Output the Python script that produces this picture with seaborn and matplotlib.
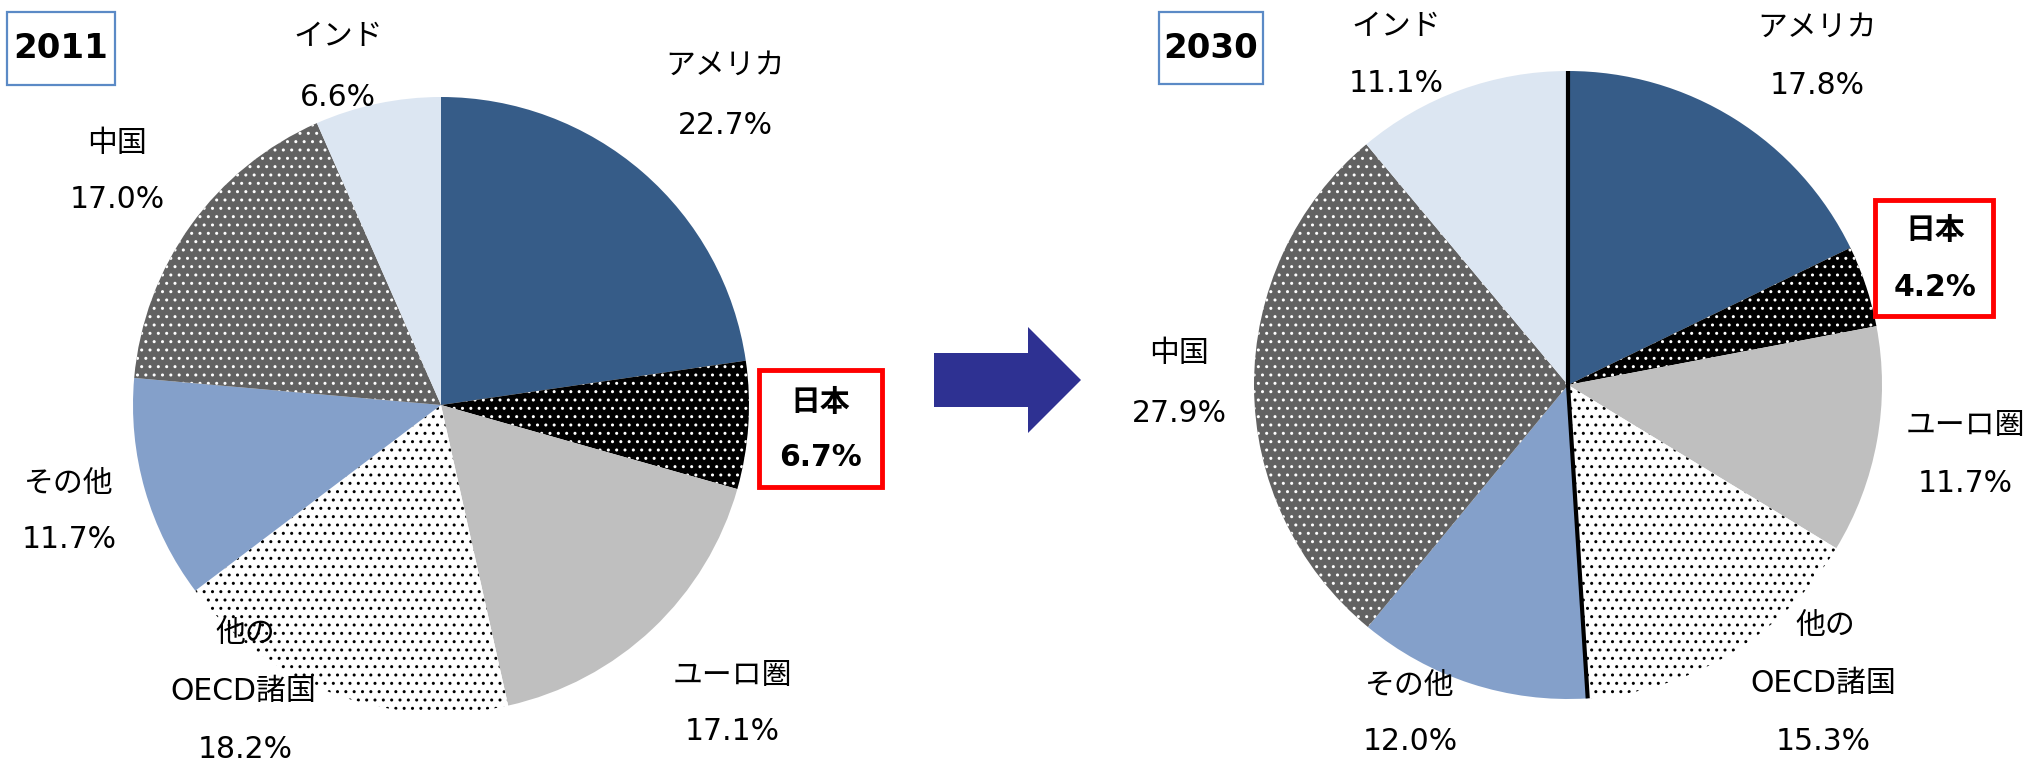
import numpy as np
import matplotlib
matplotlib.use("Agg")
import matplotlib.pyplot as plt
from matplotlib.patches import Rectangle, FancyArrow
import seaborn as sns

# ---- data ----
categories = ["アメリカ", "日本", "ユーロ圏", "他の\nOECD諸国", "その他", "中国", "インド"]
share_2011 = [22.7, 6.7, 17.1, 18.2, 11.7, 17.0, 6.6]
share_2030 = [17.8, 4.2, 11.7, 15.3, 12.0, 27.9, 11.1]
years = ["2011", "2030"]
highlight = "日本"

# ---- styles ----
colors = ["#365C88", "#000000", "#BFBFBF", "#FFFFFF", "#84A0CA", "#626262", "#DCE6F2"]
hatches = [None, "..", None, "..", None, "..", None]
hatch_colors = [None, "white", None, "black", None, "white", None]

sns.set_theme(style="white")
plt.rcParams["font.family"] = ["DejaVu Sans", "Noto Sans CJK JP"]
plt.rcParams["text.color"] = "black"
plt.rcParams["hatch.linewidth"] = 1.0

W, H = 2042, 766
fig = plt.figure(figsize=(W / 100, H / 100), dpi=100)
ax = fig.add_axes([0, 0, 1, 1])

def Y(v):
    return H - v

# layout (pixel coords, y from top)
pies = [
    dict(vals=share_2011, cx=441, cy=405, r=308,
         title_box=(7, 12, 108, 73),
         labels={
             "アメリカ": (725, 65, 725, 126),
             "ユーロ圏": (732, 675, 732, 732),
             "他の\nOECD諸国": (245, 633, 245, 750),
             "その他": (69, 484, 69, 540),
             "中国": (117, 143, 117, 200),
             "インド": (338, 37, 338, 97),
         },
         jp_box=(759, 370, 123, 117), jp_text=(820, 402, 820, 458),
         dividers=[]),
    dict(vals=share_2030, cx=1568, cy=385, r=314,
         title_box=(1159, 12, 104, 72),
         labels={
             "アメリカ": (1817, 27, 1817, 86),
             "ユーロ圏": (1965, 425, 1965, 483),
             "他の\nOECD諸国": (1825, 625, 1823, 742),
             "その他": (1410, 685, 1410, 742),
             "中国": (1179, 354, 1179, 414),
             "インド": (1396, 27, 1396, 84),
         },
         jp_box=(1875, 200, 118, 116), jp_text=(1935, 231, 1935, 288),
         dividers=[0, 4]),
]

label_fs = 21.5

for p, year in zip(pies, years):
    vals = p["vals"]
    wedges, _ = ax.pie(vals, colors=colors, startangle=90, counterclock=False,
                       center=(p["cx"], Y(p["cy"])), radius=p["r"],
                       wedgeprops=dict(linewidth=0))
    for w, h, hc in zip(wedges, hatches, hatch_colors):
        if h:
            w.set_hatch(h)
            w.set_edgecolor(hc)
            w.set_linewidth(0)
    # divider lines on wedge boundaries
    cum = np.concatenate([[0], np.cumsum(vals)]) / np.sum(vals)
    for k in p["dividers"]:
        ang = np.deg2rad(90 - 360 * cum[k])
        x1 = p["cx"] + p["r"] * np.cos(ang)
        y1 = Y(p["cy"]) + p["r"] * np.sin(ang)
        ax.plot([p["cx"], x1], [Y(p["cy"]), y1], color="black", lw=3,
                solid_capstyle="butt", zorder=5)

    # year box
    bx, by, bw, bh = p["title_box"]
    ax.add_patch(Rectangle((bx, Y(by + bh)), bw, bh, facecolor="white",
                           edgecolor="#5B8AC6", lw=1.6, zorder=6))
    ax.text(bx + bw / 2, Y(by + bh / 2), year, ha="center", va="center",
            fontsize=24.5, fontweight="bold", color="black", zorder=7)

    # category labels
    for cat, v in zip(categories, vals):
        if cat == highlight:
            jx, jy, jw, jh = p["jp_box"]
            ax.add_patch(Rectangle((jx, Y(jy + jh)), jw, jh, facecolor="white",
                                   edgecolor="#FF0000", lw=3.5, zorder=6))
            tx, ty, px, py = p["jp_text"]
            ax.text(tx, Y(ty), cat, ha="center", va="center", fontsize=label_fs,
                    fontweight="bold", color="black", zorder=7)
            ax.text(px, Y(py), f"{v:.1f}%", ha="center", va="center",
                    fontsize=label_fs, fontweight="bold", color="black", zorder=7)
        else:
            tx, ty, px, py = p["labels"][cat]
            if "\n" in cat:
                l1, l2 = cat.split("\n")
                ax.text(tx, Y(ty), l1, ha="center", va="center", fontsize=label_fs,
                        color="black", zorder=7)
                ax.text(tx - 2, Y(ty + 58), l2, ha="center", va="center", fontsize=label_fs,
                        color="black", zorder=7)
            else:
                ax.text(tx, Y(ty), cat, ha="center", va="center", fontsize=label_fs,
                        color="black", zorder=7)
            ax.text(px, Y(py), f"{v:.1f}%", ha="center", va="center",
                    fontsize=label_fs, color="black", zorder=7)

# arrow between the two pies
ax.add_patch(FancyArrow(934, Y(380), 147, 0, width=54, head_width=106,
                        head_length=53, length_includes_head=True,
                        facecolor="#2E3192", edgecolor="none", zorder=4))

ax.set_xlim(0, W)
ax.set_ylim(0, H)
ax.set_aspect("equal")
ax.axis("off")
fig.savefig("out.png", dpi=100, facecolor="white")
